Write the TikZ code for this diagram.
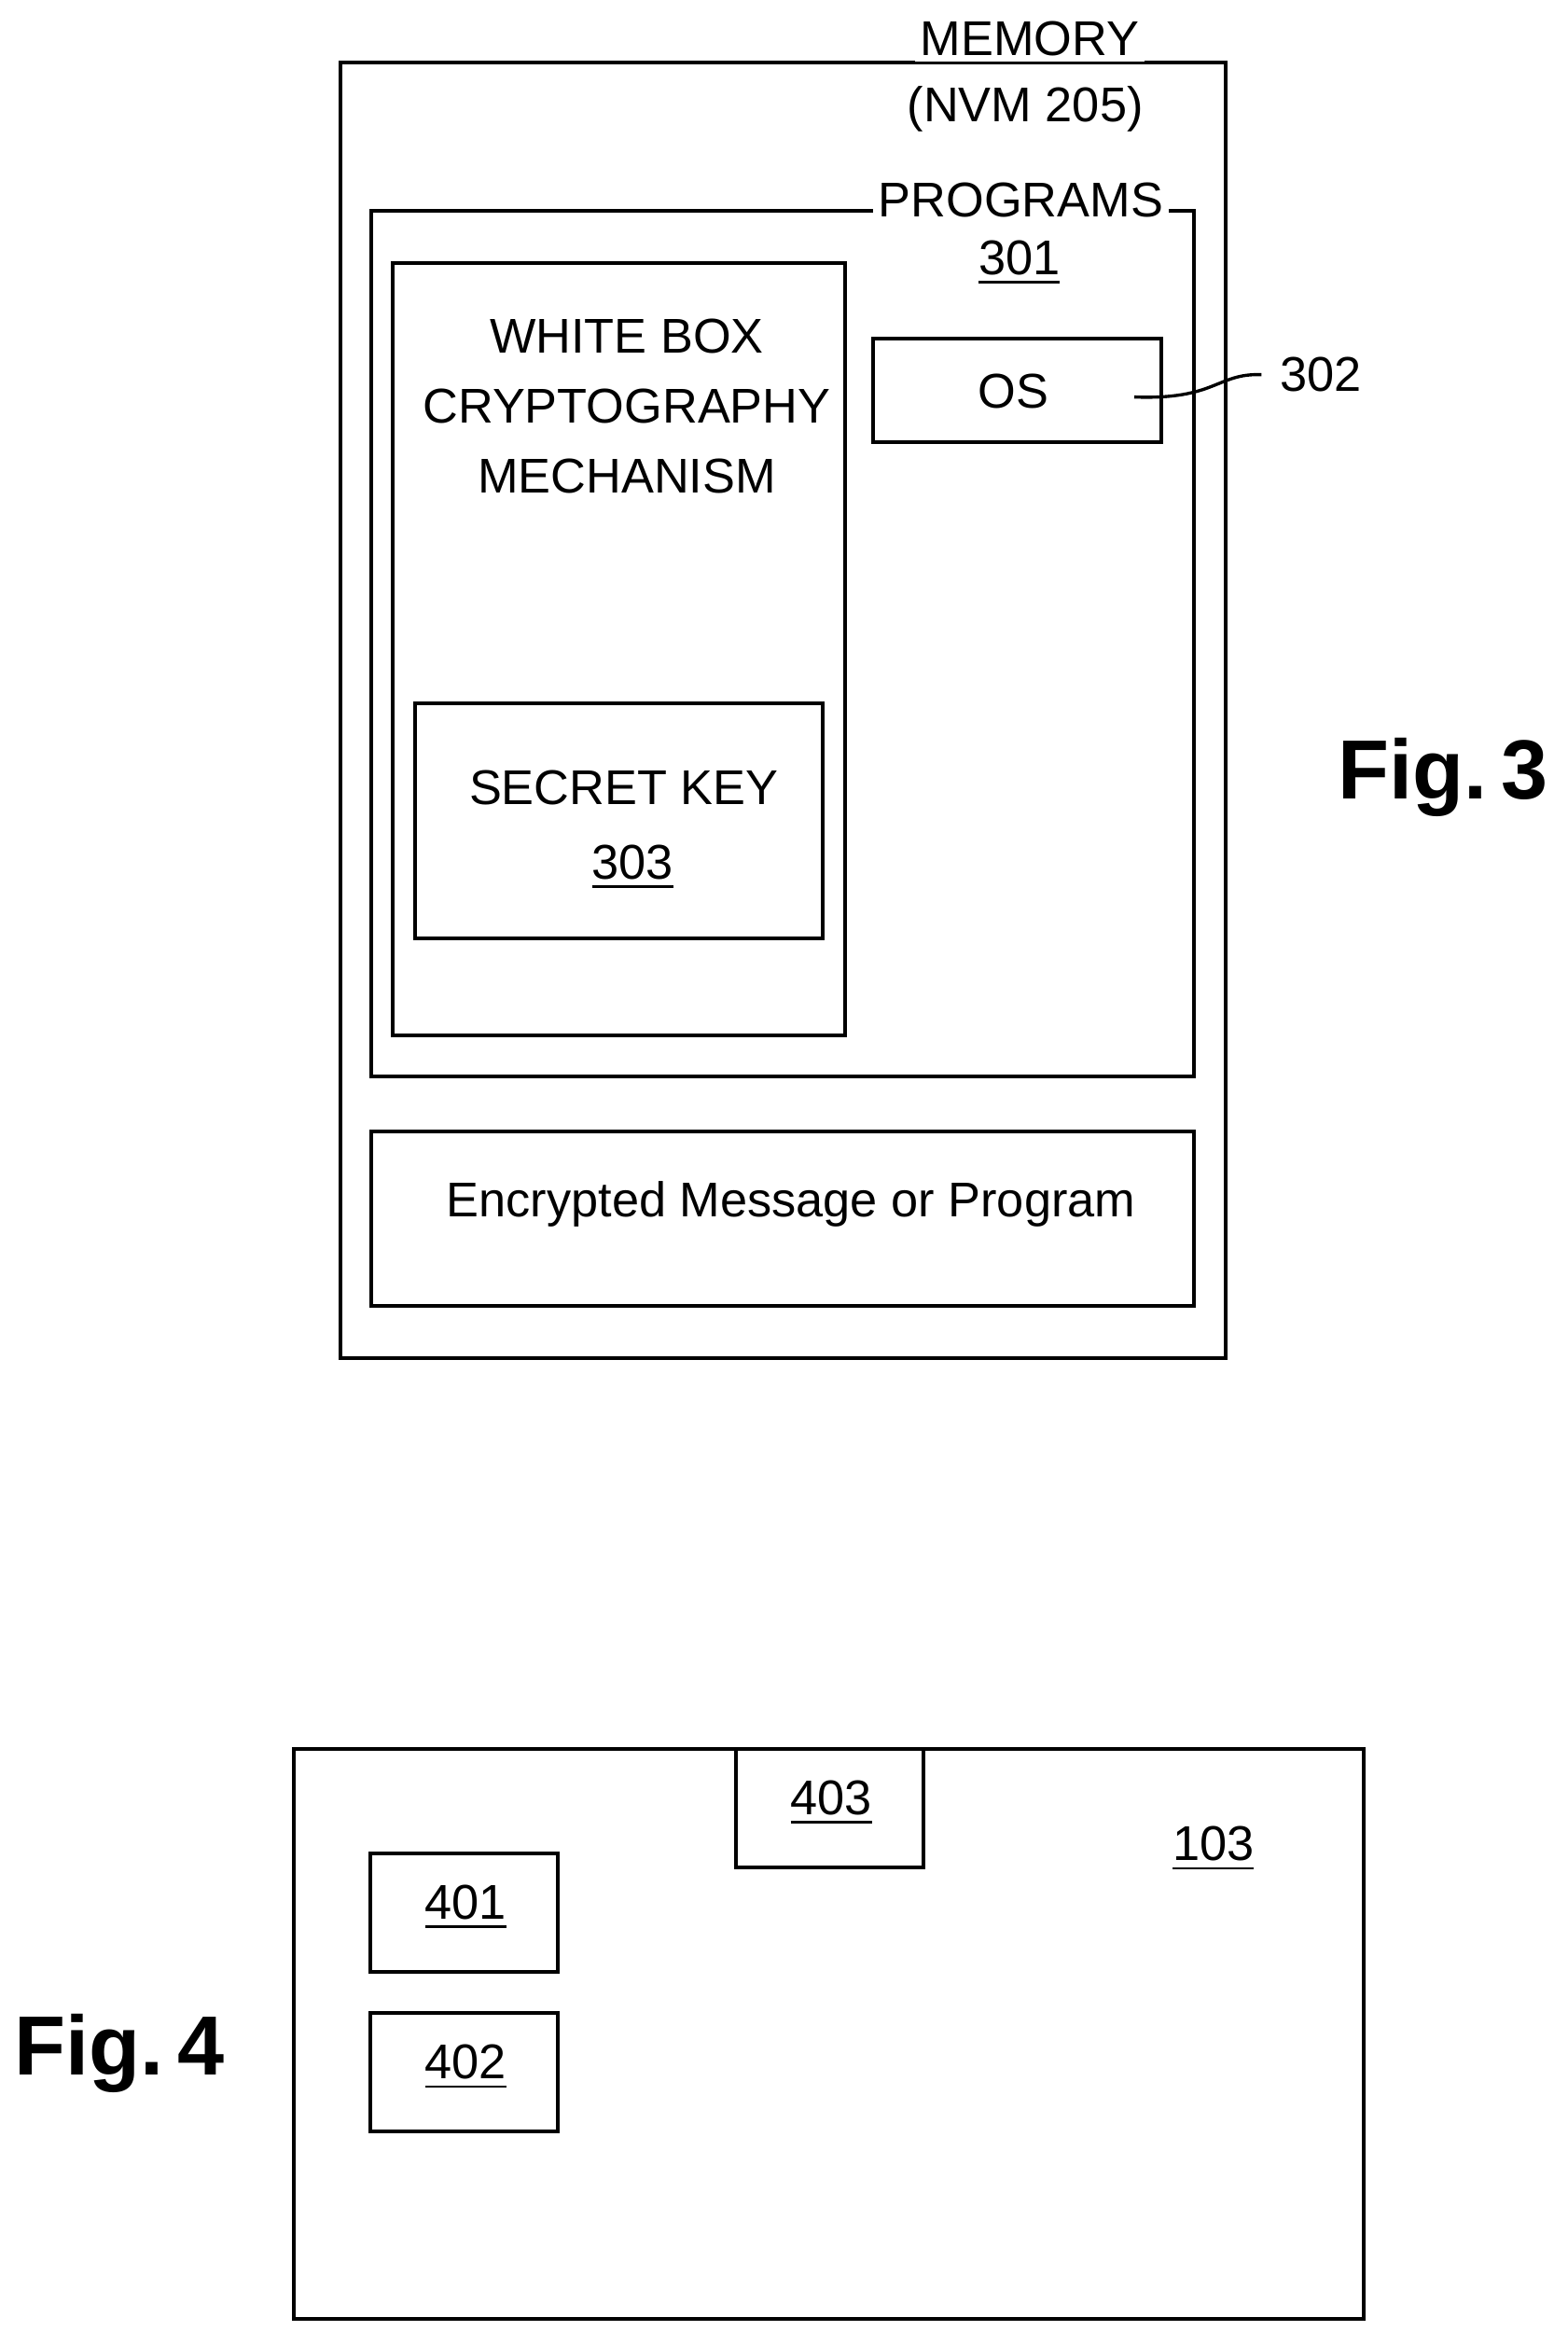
\documentclass[tikz,border=0pt]{standalone}
\usepackage{fontspec}
\setmainfont{Liberation Sans}
\usetikzlibrary{positioning}
\begin{document}
\begin{tikzpicture}[x=0.01cm,y=-0.01cm]

\tikzset{box/.style = {draw,line width=0.7pt}}
\tikzset{lbl/.style = {font=\fontsize{9.3}{13}\selectfont,align=center}}
\tikzset{fig/.style = {font=\fontsize{16}{20}\selectfont\bfseries}}
\useasboundingbox (0,0) rectangle (1050.6,1571.25);
% fig 3
\draw[box] (228,42) rectangle (821,910);
\node[lbl,fill=white,inner sep=1pt] (mem) at (690,26) {MEMORY};
\node[lbl] (nvm) at (687,73) {(NVM 205)};
\draw[box] (249,141) rectangle (800,721);
\node[lbl,fill=white,inner sep=1pt] (prog) at (684,134) {PROGRAMS};
\node[lbl] (n301) at (683,176) {\underline{301}};
\draw[box] (263,176) rectangle (566,694);
\node[lbl,font=\fontsize{9.3}{13.3}\selectfont] (wbc) at (420,272) {WHITE BOX\\CRYPTOGRAPHY\\MECHANISM};
\draw[box] (278,471) rectangle (551,629);
\node[lbl] (key) at (418,528) {SECRET KEY};
\node[lbl] (n303) at (424,581) {\underline{303}};
\draw[box] (585,227) rectangle (778,296);
\node[lbl] (os) at (679,262) {OS};
\node[lbl] (n302) at (885,251) {302};
\coordinate (osend) at (760,266);
\draw[line width=0.6pt] (osend) .. controls (815,268) and (815,250) .. (n302.west);
\draw[box] (249,758) rectangle (800,875);
\node[lbl] (enc) at (530,807) {Encrypted Message or Program};
\node[fig] (fig3) at (967,521) {Fig.\,3};
% fig 4
\draw[box] (197,1172) rectangle (914,1554);
\draw[box] (493,1172) rectangle (619,1251);
\node[lbl] (n403) at (557,1208) {\underline{403}};
\node[lbl] (n103) at (813,1239) {\underline{103}};
\draw[box] (248,1242) rectangle (374,1321);
\node[lbl] (n401) at (312,1278) {\underline{401}};
\draw[box] (248,1349) rectangle (374,1428);
\node[lbl] (n402) at (312,1385) {\underline{402}};
\node[fig] (fig4) at (80,1376) {Fig.\,4};

\end{tikzpicture}
\end{document}
